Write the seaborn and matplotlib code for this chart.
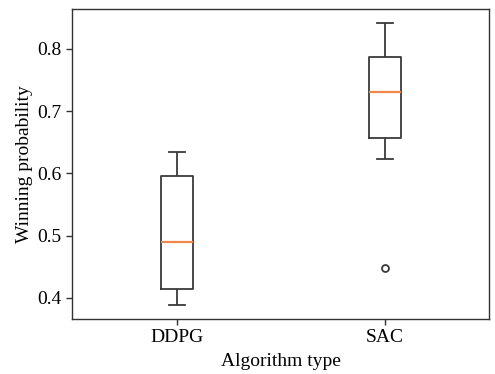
import matplotlib
matplotlib.use("Agg")
import matplotlib.pyplot as plt
import seaborn as sns
import pandas as pd

# Data
algorithms = ["DDPG", "SAC"]
ddpg_values = [0.389, 0.414, 0.490, 0.595, 0.635]
sac_values = [0.448, 0.623, 0.656, 0.700, 0.730, 0.760, 0.787, 0.815, 0.841]
y_ticks = [0.4, 0.5, 0.6, 0.7, 0.8]

df = pd.DataFrame({
    "Algorithm type": [algorithms[0]] * len(ddpg_values) + [algorithms[1]] * len(sac_values),
    "Winning probability": ddpg_values + sac_values,
})

plt.rcParams["font.family"] = ["Liberation Serif", "DejaVu Serif"]
plt.rcParams["font.size"] = 14

fig = plt.figure(figsize=(4.95, 3.74), dpi=100)
ax = fig.add_axes([0.1455, 0.147, 0.988 - 0.1455, 0.976 - 0.147])

edge = "#3a3a3a"
sns.boxplot(
    data=df, x="Algorithm type", y="Winning probability", order=algorithms,
    fill=False, width=0.155, color=edge, linewidth=1.3, ax=ax,
    boxprops=dict(color=edge),
    whiskerprops=dict(color=edge),
    capprops=dict(color=edge),
    medianprops=dict(color="#f0884a", linewidth=1.6),
    flierprops=dict(marker="o", markerfacecolor="none", markeredgecolor=edge,
                    markersize=5, markeredgewidth=1.3),
)

ax.set_xlim(-0.505, 1.5)
ax.set_ylim(0.366, 0.864)
ax.set_yticks(y_ticks)
ax.set_yticklabels([f"{t:.1f}" for t in y_ticks])
ax.set_xlabel("Algorithm type", fontsize=14, labelpad=5)
ax.set_ylabel("Winning probability", fontsize=14, labelpad=3)
ax.tick_params(axis="both", labelsize=14, length=4, width=1, color="#333333")
for s in ax.spines.values():
    s.set_linewidth(1.0)
    s.set_color("#333333")

fig.savefig("out.png", dpi=100)
